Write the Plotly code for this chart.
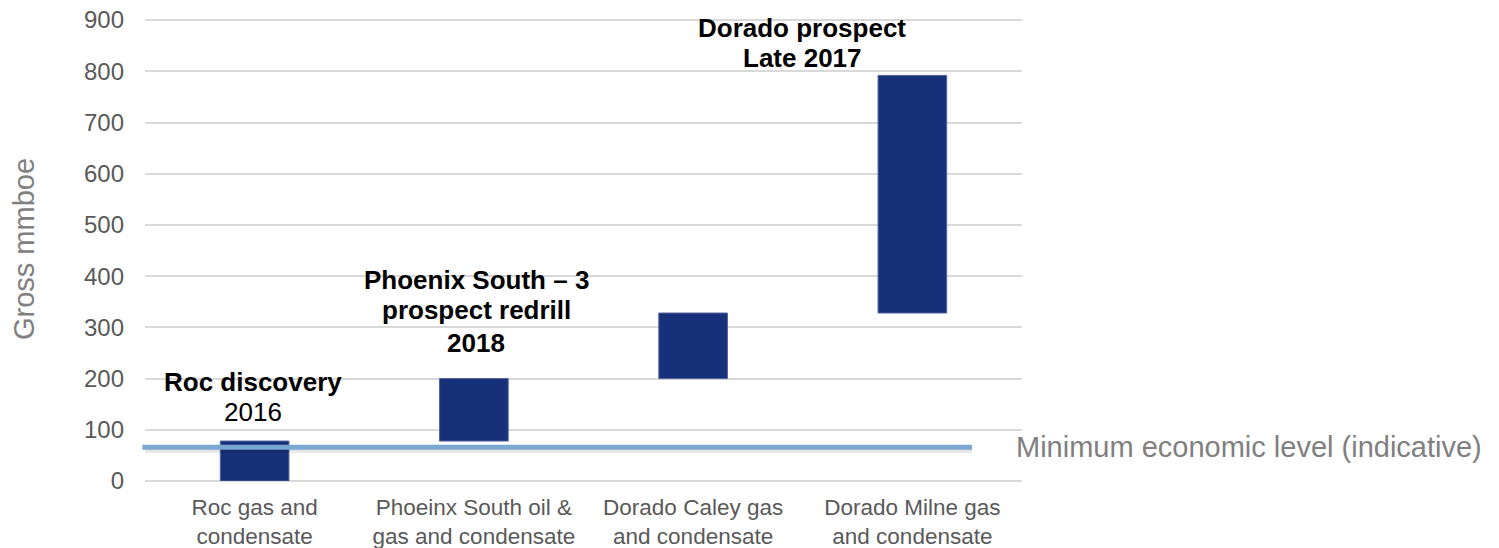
import plotly.graph_objects as go

# ---- data ----
categories = [
    "Roc gas and<br>condensate",
    "Phoeinx South oil &<br>gas and condensate",
    "Dorado Caley gas<br>and condensate",
    "Dorado Milne gas<br>and condensate",
]
range_low = [0, 78, 200, 328]
range_high = [78, 200, 328, 792]
min_economic_level = 66
y_ticks = [0, 100, 200, 300, 400, 500, 600, 700, 800, 900]

heights = [h - l for h, l in zip(range_high, range_low)]

FONT = "Arial, Liberation Sans, sans-serif"
BAR = "#17307a"
GRID = "#d9d9d9"

fig = go.Figure()
fig.add_trace(go.Bar(
    x=categories, y=heights, base=range_low,
    width=0.313,
    marker=dict(color=BAR, line=dict(color="#51639c", width=1)),
    hoverinfo="skip", showlegend=False,
))

# minimum economic level line with a soft shadow
fig.add_shape(type="line", xref="paper", yref="y", x0=0.0, x1=0.943,
              y0=min_economic_level - 5, y1=min_economic_level - 5,
              line=dict(color="rgba(0,0,0,0.10)", width=6), layer="above")
fig.add_shape(type="line", xref="paper", yref="y", x0=-0.003, x1=0.943,
              y0=min_economic_level, y1=min_economic_level,
              line=dict(color="#7ba7d3", width=5), layer="above")

# white gap in the 100 gridline near the label (as in reference)
fig.add_shape(type="rect", xref="paper", yref="y", x0=0.967, x1=1.001,
              y0=96, y1=104, fillcolor="white", line=dict(width=0), layer="below")

def px2y(py):
    return (481 - py) / 0.5121

def px2x(px):
    return (px - 145) / 877

ann = [
    ("<b>Roc discovery</b>", 253, 382),
    ("2016", 253, 412),
    ("<b>Phoenix South – 3</b>", 476, 280),
    ("<b>prospect redrill</b>", 476, 310),
    ("<b>2018</b>", 476, 343),
    ("<b>Dorado prospect</b>", 802, 28),
    ("<b>Late 2017</b>", 802, 58),
]
for t, x, y in ann:
    fig.add_annotation(text=t, xref="paper", yref="y", x=px2x(x), y=px2y(y),
                       xanchor="center", yanchor="middle", showarrow=False,
                       font=dict(family=FONT, size=26, color="#000000"))

fig.add_annotation(text="Minimum economic level (indicative)", xref="paper", yref="y",
                   x=px2x(1014), y=min_economic_level, xanchor="left", yanchor="middle",
                   showarrow=False, font=dict(family=FONT, size=29, color="#808080"))

# page body has an 8px margin: shift/shrink the figure so the plot lands in place
fig.update_layout(
    width=1491, height=540,
    margin=dict(l=137, r=477, t=9, b=67),
    paper_bgcolor="white", plot_bgcolor="white",
    font=dict(family=FONT),
    bargap=0.687,
)
fig.update_xaxes(
    type="category", range=[-0.5, 3.5], showgrid=False, showline=False, zeroline=False,
    ticks="", tickfont=dict(family=FONT, size=22.5, color="#595959"),
    ticklabelstandoff=10, automargin=False,
)
fig.update_yaxes(
    range=[0, 906], tickvals=y_ticks, showgrid=True, gridcolor=GRID, gridwidth=1.5,
    zeroline=True, zerolinecolor=GRID, zerolinewidth=1.5, showline=False, ticks="",
    tickfont=dict(family=FONT, size=24, color="#595959"),
    ticklabelstandoff=20, automargin=False, ticklabeloverflow="allow",
    title=dict(text="Gross mmboe", font=dict(family=FONT, size=29, color="#808080"), standoff=40),
)

fig.write_html("out.html")
